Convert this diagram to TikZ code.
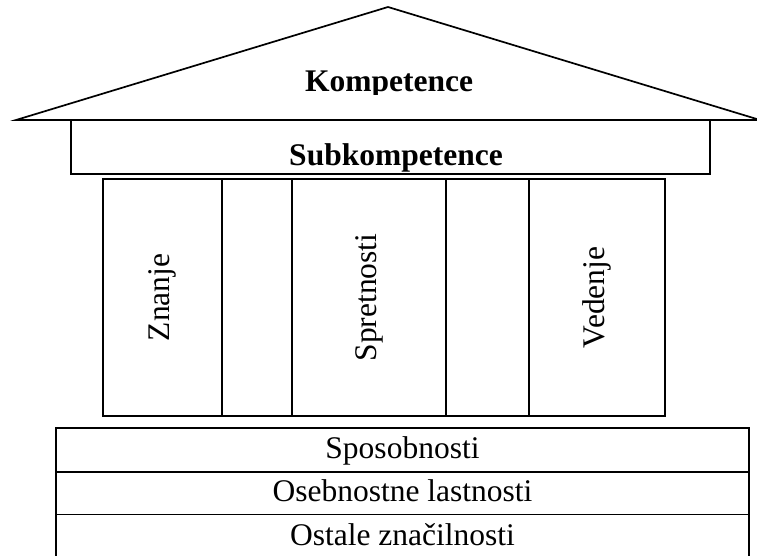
\documentclass[tikz,border=0pt]{standalone}
\usepackage{fontspec}
\setmainfont{Liberation Serif}
\begin{document}
\begin{tikzpicture}[x=1pt,y=-1pt, line width=1.7pt, line join=miter,
  bl/.style={font=\fontsize{31.5}{36}\selectfont\bfseries, inner sep=0pt, anchor=base},
  rg/.style={font=\fontsize{31.5}{36}\selectfont, inner sep=0pt, anchor=base},
  vt/.style={font=\fontsize{31.5}{36}\selectfont, inner sep=0pt, rotate=90}]
\useasboundingbox (0,0) rectangle (757,556);
\clip (0,0) rectangle (757,556);
% roof
\coordinate (roofL) at (16,120);
\coordinate (roofT) at (388,7);
\coordinate (roofR) at (760,120);
\draw (roofL) -- (roofT) -- (roofR) -- cycle;
\begin{scope}
  \clip (0,0) rectangle (757,94.3);
  \node[bl] (komp) at (389,92) {Kompetence};
\end{scope}
% beam
\draw (71,120) rectangle (710,174);
\node[bl] (sub) at (396,166) {Subkompetence};
% columns
\draw (103,179) rectangle (665,416);
\draw (222,179) -- (222,416);
\draw (292,179) -- (292,416);
\draw (446,179) -- (446,416);
\draw (529,179) -- (529,416);
\node[vt] (znanje) at (162.5,297.5) {Znanje};
\node[vt] (spret) at (369,297.5) {Spretnosti};
\node[vt] (veden) at (597,297.5) {Vedenje};
% base
\draw (56,428) rectangle (749,570);
\draw (56,471.7) -- (749,471.7);
\draw (56,514.5) -- (749,514.5);
\node[rg] (spos) at (402.5,458) {Sposobnosti};
\node[rg] (oseb) at (402.5,501.5) {Osebnostne lastnosti};
\node[rg] (ostale) at (402.5,545) {Ostale značilnosti};
\end{tikzpicture}
\end{document}
